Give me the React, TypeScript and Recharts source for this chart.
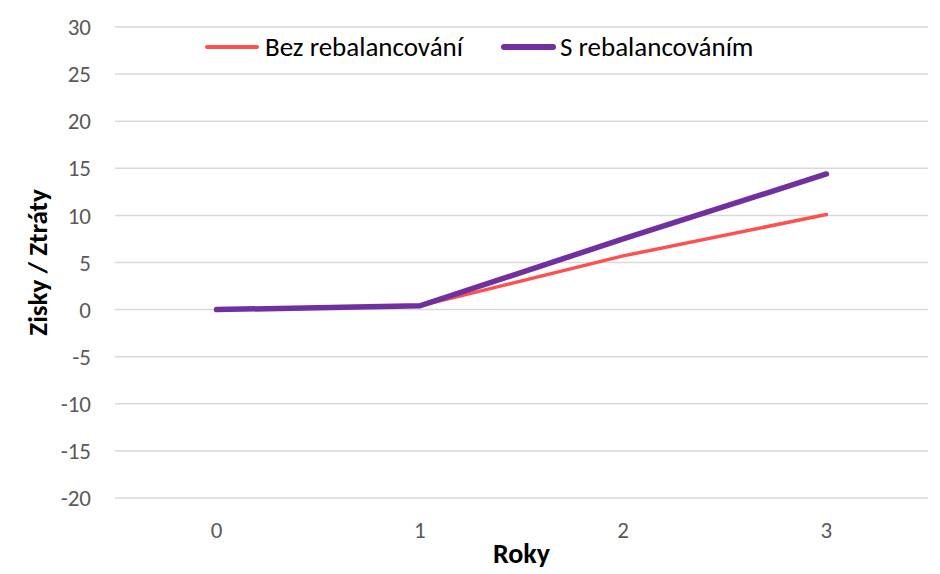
import React from 'react';
import { LineChart, Line, XAxis, YAxis, CartesianGrid, Label } from 'recharts';

const years = ['0', '1', '2', '3'];
const bezRebalancovani = [0, 0.4, 5.7, 10.1];
const sRebalancovanim = [0, 0.4, 7.5, 14.4];
const yTicks = [-20, -15, -10, -5, 0, 5, 10, 15, 20, 25, 30];
const seriesNames = ['Bez rebalancování', 'S rebalancováním'];
const seriesColors = ['#FF5050', '#7030A0'];

const data = years.map((y, i) => ({
  year: y,
  bez: bezRebalancovani[i],
  s: sRebalancovanim[i],
}));

const FONT = 'Carlito, Calibri, Lato, sans-serif';

const LegendContent = () => (
  <div style={{ display: 'flex', alignItems: 'center', fontFamily: FONT, fontSize: 27, color: '#000', whiteSpace: 'nowrap', lineHeight: '32px' }}>
    <div style={{ width: 54, height: 4, background: seriesColors[0], borderRadius: 2, marginRight: 6 }} />
    <span>{seriesNames[0]}</span>
    <div style={{ width: 55, height: 6, background: seriesColors[1], borderRadius: 3, marginLeft: 38, marginRight: 4 }} />
    <span>{seriesNames[1]}</span>
  </div>
);

export default function App() {
  return (
    <div style={{ position: 'absolute', left: 0, top: 0, width: 940, height: 574, background: '#fff' }}>
      <LineChart width={940} height={574} data={data} margin={{ top: 27, right: 12, bottom: 0, left: 0 }}>
        <CartesianGrid vertical={false} stroke="#d9d9d9" strokeWidth={1.5} />
        <XAxis
          dataKey="year"
          height={76}
          padding={{ left: 101.6, right: 101.6 }}
          tickLine={false}
          axisLine={false}
          tickSize={0}
          tickMargin={24}
          tick={{ fill: '#595959', fontSize: 23, fontFamily: FONT }}
        >
          <Label value="Roky" position="insideBottom" offset={11} style={{ fill: '#000', fontSize: 28, fontWeight: 700, fontFamily: FONT }} />
        </XAxis>
        <YAxis
          width={115}
          domain={[-20, 30]}
          ticks={yTicks}
          interval={0}
          tickLine={false}
          axisLine={false}
          tickSize={0}
          tickMargin={24}
          tick={{ fill: '#595959', fontSize: 23, fontFamily: FONT }}
        >
          <Label
            value="Zisky / Ztráty"
            angle={-90}
            position="insideLeft"
            offset={37}
            style={{ fill: '#000', fontSize: 27, fontWeight: 700, fontFamily: FONT, textAnchor: 'middle' }}
          />
        </YAxis>
        <Line type="linear" dataKey="bez" name={seriesNames[0]} stroke={seriesColors[0]} strokeWidth={3.5} dot={false} strokeLinecap="round" isAnimationActive={false} />
        <Line type="linear" dataKey="s" name={seriesNames[1]} stroke={seriesColors[1]} strokeWidth={5.5} dot={false} strokeLinecap="round" isAnimationActive={false} />
      </LineChart>
      <div style={{ position: 'absolute', left: 205, top: 31 }}>
        <LegendContent />
      </div>
    </div>
  );
}
